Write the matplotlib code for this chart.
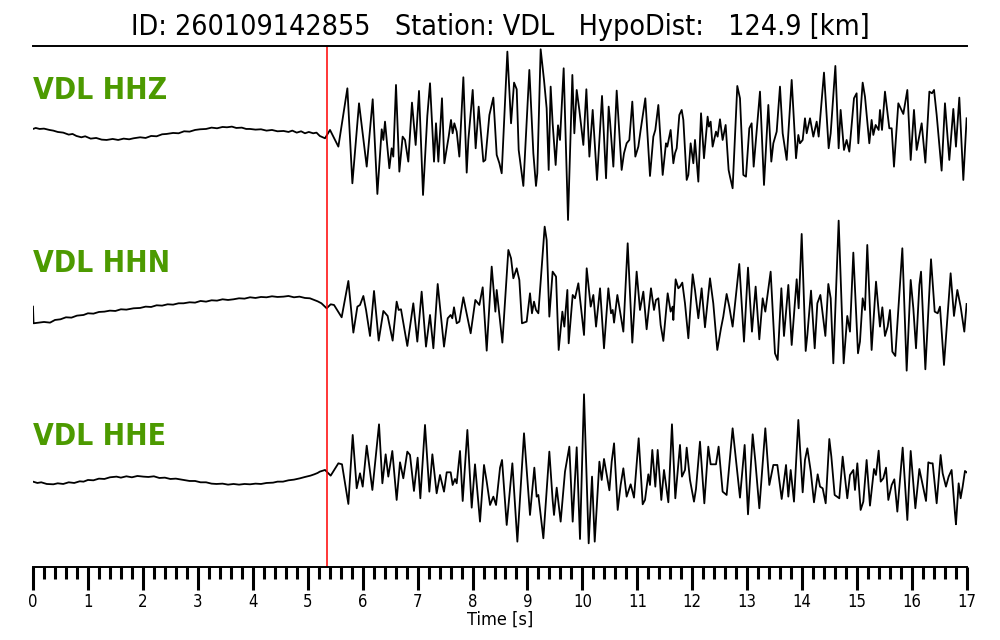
# -*- coding: utf-8 -*-

import matplotlib
matplotlib.use('Agg')
import matplotlib.pyplot as plt
import numpy as np
from matplotlib import font_manager
from matplotlib.ticker import MultipleLocator

# event / station info
EVENT_ID = '260109142855'
STATION = 'VDL'
HYPO_DIST = 124.9
PICK_TIME = 5.35      # P pick [s]
CHANNELS = ['HHZ', 'HHN', 'HHE']

# traces: (time [s], amplitude [counts])
HHZ = [(0.00, 3), (0.05, 6), (0.12, 3), (0.20, 4), (0.30, 0), (0.37, -2),
       (0.45, -6), (0.55, -8), (0.65, -14), (0.72, -12), (0.79, -18),
       (0.88, -22), (0.95, -19), (1.05, -26), (1.15, -24), (1.25, -29),
       (1.34, -30), (1.45, -27), (1.55, -30), (1.65, -26), (1.75, -28),
       (1.83, -25), (1.95, -22), (2.05, -24), (2.15, -18), (2.25, -19),
       (2.35, -13), (2.43, -12), (2.55, -9), (2.65, -10), (2.75, -4),
       (2.85, -5), (2.95, 0), (3.04, 2), (3.15, 3), (3.25, 7), (3.35, 5),
       (3.45, 9), (3.53, 8), (3.62, 10), (3.70, 6), (3.80, 7), (3.88, 3),
       (3.95, 3), (4.05, 1), (4.15, 2), (4.25, -2), (4.35, 0), (4.45, -4),
       (4.56, -3), (4.65, -6), (4.72, -2), (4.80, -8), (4.88, -4),
       (4.95, -10), (5.02, -6), (5.10, -10), (5.16, -8), (5.22, -18),
       (5.315, -25), (5.406, 0), (5.558, -50), (5.722, 125), (5.813, -160),
       (5.934, 80), (6.074, -110), (6.183, 92), (6.268, -192), (6.347, 2),
       (6.377, -30), (6.407, 25), (6.486, -115), (6.528, -55), (6.558, -80),
       (6.607, 135), (6.668, -125), (6.728, -20), (6.771, -30), (6.831, -95),
       (6.898, 82), (6.965, -45), (7.026, 117), (7.099, -195), (7.177, 42),
       (7.226, 140), (7.299, -95), (7.335, 20), (7.378, -95), (7.444, 95),
       (7.487, -100), (7.566, -20), (7.608, 30), (7.638, -10), (7.669, 20),
       (7.712, -5), (7.760, -80), (7.833, 158), (7.894, -128), (7.924, -30),
       (8.003, 120), (8.057, -55), (8.112, 70), (8.197, -95), (8.233, -90),
       (8.307, 45), (8.379, 97), (8.440, -75), (8.489, -100), (8.531, -130),
       (8.634, 235), (8.701, 20), (8.756, 142), (8.804, 122), (8.840, -60),
       (8.925, -168), (9.034, 180), (9.107, -70), (9.155, -168),
       (9.179, -130), (9.240, 242), (9.301, 150), (9.349, 65), (9.386, -120),
       (9.422, 130), (9.458, 20), (9.513, -105), (9.556, 14), (9.592, -30),
       (9.659, 185), (9.738, -270), (9.817, 165), (9.853, -10), (9.896, 120),
       (9.944, 60), (10.017, -45), (10.072, 122), (10.127, -80),
       (10.187, 60), (10.266, -150), (10.357, 102), (10.430, -145),
       (10.478, 70), (10.503, 25), (10.563, -110), (10.624, 118),
       (10.714, -120), (10.757, -70), (10.805, -40), (10.854, -30),
       (10.908, 85), (10.963, -80), (11.018, -50), (11.060, 0),
       (11.145, 95), (11.230, -138), (11.291, -20), (11.327, 0), (11.382, 75),
       (11.461, -135), (11.521, -40), (11.545, -50), (11.606, 0),
       (11.655, -100), (11.685, -70), (11.716, -55), (11.764, 45),
       (11.807, 60), (11.837, 30), (11.898, -150), (11.928, -135),
       (11.970, -40), (12.019, -100), (12.049, -30), (12.110, -155),
       (12.159, 50), (12.213, -85), (12.279, 40), (12.303, 10), (12.334, 25),
       (12.370, -50), (12.431, -5), (12.461, -20), (12.504, 32),
       (12.552, -30), (12.607, 15), (12.661, -120), (12.686, -140),
       (12.734, -175), (12.819, 132), (12.868, 95), (12.929, -135),
       (12.977, -140), (13.038, 5), (13.080, 20), (13.117, -110),
       (13.183, 20), (13.232, 115), (13.305, -165), (13.384, 75),
       (13.438, -95), (13.475, -40), (13.536, -5), (13.596, 130),
       (13.645, -10), (13.718, -90), (13.809, 150), (13.888, -85),
       (13.930, -15), (13.960, -40), (14.009, -30), (14.051, 35),
       (14.082, -10), (14.143, 35), (14.203, -20), (14.264, 25),
       (14.300, -20), (14.397, 172), (14.482, -55), (14.519, -10),
       (14.604, 192), (14.664, -55), (14.700, 60), (14.761, -60),
       (14.809, -30), (14.858, -65), (14.943, 95), (14.991, 110),
       (15.022, -40), (15.101, 142), (15.143, 100), (15.222, -40),
       (15.264, 30), (15.295, -15), (15.337, 15), (15.392, 0), (15.416, 60),
       (15.453, 0), (15.507, 115), (15.586, 5), (15.629, 5), (15.671, -110),
       (15.750, 80), (15.841, 48), (15.914, 120), (15.975, -90),
       (16.035, 60), (16.084, -60), (16.175, 20), (16.242, -98),
       (16.315, 115), (16.363, 110), (16.400, 120), (16.448, 45),
       (16.538, -122), (16.599, 80), (16.678, -90), (16.751, 63),
       (16.799, -50), (16.860, 97), (16.933, -150), (16.993, 35)]

HHN = [(0.00, -20), (0.01, -70), (0.10, -68), (0.20, -66), (0.31, -68),
       (0.40, -60), (0.50, -58), (0.60, -52), (0.70, -53), (0.80, -47),
       (0.92, -45), (1.00, -40), (1.10, -41), (1.20, -36), (1.30, -35),
       (1.40, -32), (1.50, -33), (1.60, -28), (1.70, -29), (1.83, -25),
       (1.95, -24), (2.05, -20), (2.15, -21), (2.25, -16), (2.35, -17),
       (2.45, -13), (2.55, -14), (2.65, -10), (2.74, -10), (2.85, -7),
       (2.95, -8), (3.05, -3), (3.15, -5), (3.25, -1), (3.35, -2), (3.45, 2),
       (3.55, 0), (3.65, 2), (3.75, 5), (3.85, 4), (3.95, 8), (4.05, 6),
       (4.15, 9), (4.25, 8), (4.35, 11), (4.45, 9), (4.56, 10), (4.65, 12),
       (4.75, 8), (4.85, 10), (4.95, 6), (5.04, 5), (5.12, 0), (5.18, -4),
       (5.25, -10), (5.345, -25), (5.418, -13), (5.479, -15), (5.618, -52),
       (5.740, 57), (5.831, -98), (5.904, -20), (5.952, -15), (6.013, 12),
       (6.062, -30), (6.134, -108), (6.207, 27), (6.292, -122), (6.377, -33),
       (6.455, -48), (6.546, -122), (6.619, -5), (6.655, -30), (6.698, -28),
       (6.813, -138), (6.922, -10), (6.995, -125), (7.074, 25),
       (7.153, -140), (7.226, -45), (7.287, -145), (7.366, 48),
       (7.481, -140), (7.548, -55), (7.602, -45), (7.632, -55), (7.663, -22),
       (7.712, -70), (7.760, -65), (7.833, 8), (7.966, -100), (8.051, 0),
       (8.124, -15), (8.185, 38), (8.258, -152), (8.349, 100), (8.416, -35),
       (8.440, 30), (8.543, -128), (8.652, 150), (8.701, 125), (8.743, 65),
       (8.804, 95), (8.852, 60), (8.900, -70), (8.985, -65), (9.046, 20),
       (9.082, -40), (9.119, -5), (9.155, -30), (9.198, -40), (9.240, 55),
       (9.313, 220), (9.349, 180), (9.398, -50), (9.458, 85), (9.520, 70),
       (9.568, -150), (9.635, -35), (9.671, -80), (9.726, 30), (9.750, -130),
       (9.823, 15), (9.865, 5), (9.926, 50), (10.029, -105), (10.078, 95),
       (10.151, -20), (10.199, 15), (10.248, -80), (10.321, 35),
       (10.393, -145), (10.472, 35), (10.521, -40), (10.551, -30),
       (10.576, -68), (10.636, 15), (10.745, -95), (10.824, 170),
       (10.908, -128), (10.987, 85), (11.048, -30), (11.109, 25),
       (11.169, -88), (11.248, 35), (11.303, -30), (11.339, 0), (11.382, 5),
       (11.424, -75), (11.473, -123), (11.552, 20), (11.606, -35),
       (11.642, -20), (11.655, -60), (11.697, 62), (11.746, 35), (11.776, 40),
       (11.818, 52), (11.867, -10), (11.928, -115), (12.007, 77),
       (12.049, 30), (12.110, -55), (12.170, 35), (12.231, -82),
       (12.322, 65), (12.382, -10), (12.455, -150), (12.522, -85),
       (12.564, -50), (12.625, 18), (12.673, -20), (12.734, -80),
       (12.855, 108), (12.941, -125), (13.014, 97), (13.086, -95),
       (13.153, 40), (13.220, -118), (13.281, 5), (13.329, -35),
       (13.426, 85), (13.505, -160), (13.554, -180), (13.621, 35),
       (13.669, -108), (13.748, 45), (13.809, -135), (13.900, 62),
       (13.936, -25), (13.991, 198), (14.064, -153), (14.094, -105),
       (14.161, 28), (14.228, -145), (14.276, -10), (14.331, 15),
       (14.422, -108), (14.476, 48), (14.519, 5), (14.567, -190),
       (14.664, 238), (14.755, -190), (14.821, -48), (14.870, -95),
       (14.931, 142), (15.016, -160), (15.052, -125), (15.101, 5),
       (15.143, -30), (15.185, 165), (15.264, -150), (15.344, 55),
       (15.416, -80), (15.459, -22), (15.507, -108), (15.556, -80),
       (15.598, -30), (15.641, -155), (15.695, -168), (15.823, 155),
       (15.902, -212), (15.975, 60), (16.023, -25), (16.072, -145),
       (16.133, 45), (16.163, 85), (16.242, -208), (16.345, 122),
       (16.412, -35), (16.466, -40), (16.508, -20), (16.581, -195),
       (16.702, 80), (16.763, -48), (16.824, 30), (16.884, -20),
       (16.951, -95), (16.993, -12)]

HHE = [(0.00, 4), (0.08, 0), (0.15, 2), (0.25, -3), (0.37, -4), (0.45, -1),
       (0.55, -3), (0.65, 2), (0.75, 0), (0.85, 5), (0.92, 4), (1.00, 9),
       (1.10, 8), (1.20, 13), (1.30, 12), (1.40, 17), (1.52, 19), (1.60, 16),
       (1.70, 20), (1.80, 17), (1.90, 21), (2.01, 19), (2.10, 18),
       (2.20, 20), (2.30, 15), (2.40, 16), (2.50, 12), (2.60, 13), (2.74, 9),
       (2.85, 6), (2.95, 6), (3.05, 2), (3.15, 2), (3.25, -2), (3.34, -3),
       (3.45, -2), (3.55, -5), (3.65, -3), (3.75, -5), (3.85, -3),
       (3.95, -4), (4.05, -2), (4.15, -3), (4.25, 0), (4.37, 1), (4.45, 4),
       (4.55, 4), (4.65, 8), (4.75, 10), (4.86, 14), (4.95, 18), (5.05, 22),
       (5.12, 26), (5.18, 30), (5.22, 34), (5.315, 39), (5.418, 22),
       (5.558, 59), (5.624, 56), (5.740, -63), (5.819, 144), (5.892, -16),
       (5.952, 29), (6.001, -11), (6.074, 112), (6.177, -21), (6.298, 176),
       (6.359, -1), (6.419, 86), (6.467, 19), (6.540, 96), (6.619, -51),
       (6.680, 62), (6.740, 14), (6.813, 94), (6.862, 84), (6.934, -24),
       (7.001, 76), (7.050, -46), (7.135, 174), (7.214, -26), (7.269, 86),
       (7.347, -31), (7.408, 24), (7.481, -26), (7.530, 32), (7.602, 32),
       (7.638, -6), (7.681, 12), (7.712, -1), (7.772, 96), (7.821, -54),
       (7.906, 159), (7.985, -74), (8.045, 56), (8.136, -116), (8.209, 54),
       (8.258, 4), (8.319, -66), (8.379, -41), (8.428, -66), (8.501, 46),
       (8.537, 69), (8.622, -126), (8.725, 59), (8.816, -176), (8.937, 149),
       (9.046, -96), (9.125, 46), (9.167, -41), (9.198, -36), (9.289, -166),
       (9.398, 94), (9.458, -51), (9.483, -96), (9.532, -14), (9.604, -116),
       (9.683, 34), (9.762, 109), (9.823, -116), (9.896, 107), (9.956, -168),
       (10.029, 266), (10.114, -181), (10.175, 19), (10.224, -176),
       (10.309, 64), (10.351, 9), (10.393, 72), (10.430, 36), (10.491, -22),
       (10.533, 64), (10.576, 119), (10.642, -81), (10.696, -6),
       (10.745, 44), (10.805, -41), (10.878, -4), (10.939, -44),
       (11.024, 134), (11.097, -64), (11.139, -51), (11.200, 26),
       (11.230, -6), (11.272, 99), (11.327, -11), (11.370, 99),
       (11.436, -51), (11.485, 39), (11.564, -58), (11.630, 176),
       (11.691, -46), (11.776, 114), (11.812, 19), (11.867, 39),
       (11.898, 106), (11.958, 9), (12.031, -56), (12.067, -18),
       (12.140, 124), (12.219, -61), (12.291, 109), (12.334, 56),
       (12.431, 56), (12.479, 109), (12.552, -26), (12.625, -36),
       (12.734, 164), (12.868, -44), (12.953, 114), (13.014, -94),
       (13.099, 146), (13.147, 66), (13.220, -76), (13.329, 164),
       (13.402, -6), (13.475, 54), (13.548, 54), (13.627, -48), (13.706, 54),
       (13.748, -41), (13.791, 39), (13.851, -56), (13.930, 189),
       (14.009, -28), (14.051, 69), (14.094, 104), (14.155, 36),
       (14.215, -58), (14.282, 26), (14.325, -11), (14.373, -16),
       (14.428, -61), (14.494, 132), (14.531, 79), (14.591, -36),
       (14.676, -46), (14.737, 79), (14.821, -46), (14.870, 24), (14.931, 39),
       (14.961, -21), (15.004, 59), (15.064, -81), (15.113, -56),
       (15.173, 69), (15.234, -68), (15.307, 42), (15.343, 24), (15.392, 97),
       (15.429, 4), (15.477, 14), (15.526, 46), (15.568, -51), (15.629, -6),
       (15.677, 11), (15.732, -86), (15.829, 106), (15.914, -111),
       (15.975, 96), (16.060, -76), (16.133, 42), (16.205, -16),
       (16.254, -54), (16.296, 62), (16.339, 59), (16.375, 59),
       (16.448, -61), (16.520, 84), (16.557, 29), (16.617, -11),
       (16.666, 19), (16.720, 39), (16.781, -91), (16.799, -124),
       (16.848, -1), (16.884, -46), (16.921, -11), (16.963, 36),
       (16.993, 32)]

TRACES = [HHZ, HHN, HHE]
OFFSETS = [1311, 801, 252]          # vertical position of each trace
LABEL_Y = [1428, 909, 390]          # vertical position of channel names
LABEL_COLOR = '#4c9a00'


def condensed_family():
    """Use DejaVu Sans Condensed if it is installed, else a narrow fallback."""
    for f in font_manager.fontManager.ttflist:
        if 'DejaVu' in f.name and 'Mono' not in f.name and \
                ('Condensed' in f.fname or f.stretch == 'condensed'):
            return f.name, 'condensed'
    names = {f.name for f in font_manager.fontManager.ttflist}
    if 'Liberation Sans Narrow' in names:
        return 'Liberation Sans Narrow', 'normal'
    return 'DejaVu Sans', 'normal'


family, stretch = condensed_family()
plt.rcParams['font.family'] = [family, 'DejaVu Sans']
plt.rcParams['font.stretch'] = stretch

fig = plt.figure(figsize=(10, 6.4), dpi=100)
ax = fig.add_axes([0.033, 0.1141, 0.934, 0.8141])

for chan, trace, offset, label_y in zip(CHANNELS, TRACES, OFFSETS, LABEL_Y):
    t = np.array([p[0] for p in trace])
    a = np.array([p[1] for p in trace])
    ax.plot(t, a + offset, color='black', lw=1.3)
    ax.text(0, label_y, f'{STATION} {chan}', color=LABEL_COLOR,
            fontsize=21.5, fontweight='bold', ha='left', va='center')

ax.axvline(PICK_TIME, color='red', lw=1.1)

ax.set_xlim(0, 17)
ax.set_ylim(0, 1563)
ax.set_yticks([])
for side in ['left', 'right']:
    ax.spines[side].set_visible(False)
ax.spines['top'].set_linewidth(1.4)
ax.spines['bottom'].set_linewidth(1.4)

ax.xaxis.set_major_locator(MultipleLocator(1))
ax.xaxis.set_minor_locator(MultipleLocator(0.2))
ax.tick_params(axis='x', which='major', length=16.5, width=2.2,
               labelsize=12, pad=2)
ax.tick_params(axis='x', which='minor', length=8.5, width=2.2)
ax.set_xlabel('Time [s]', fontsize=13, labelpad=0)

title = f'ID: {EVENT_ID}   Station: {STATION}   HypoDist:   {HYPO_DIST} [km]'
fig.text(0.5, 1 - 27 / 640, title, ha='center', va='center', fontsize=20.5)

fig.savefig('out.png', dpi=100, facecolor='white')
